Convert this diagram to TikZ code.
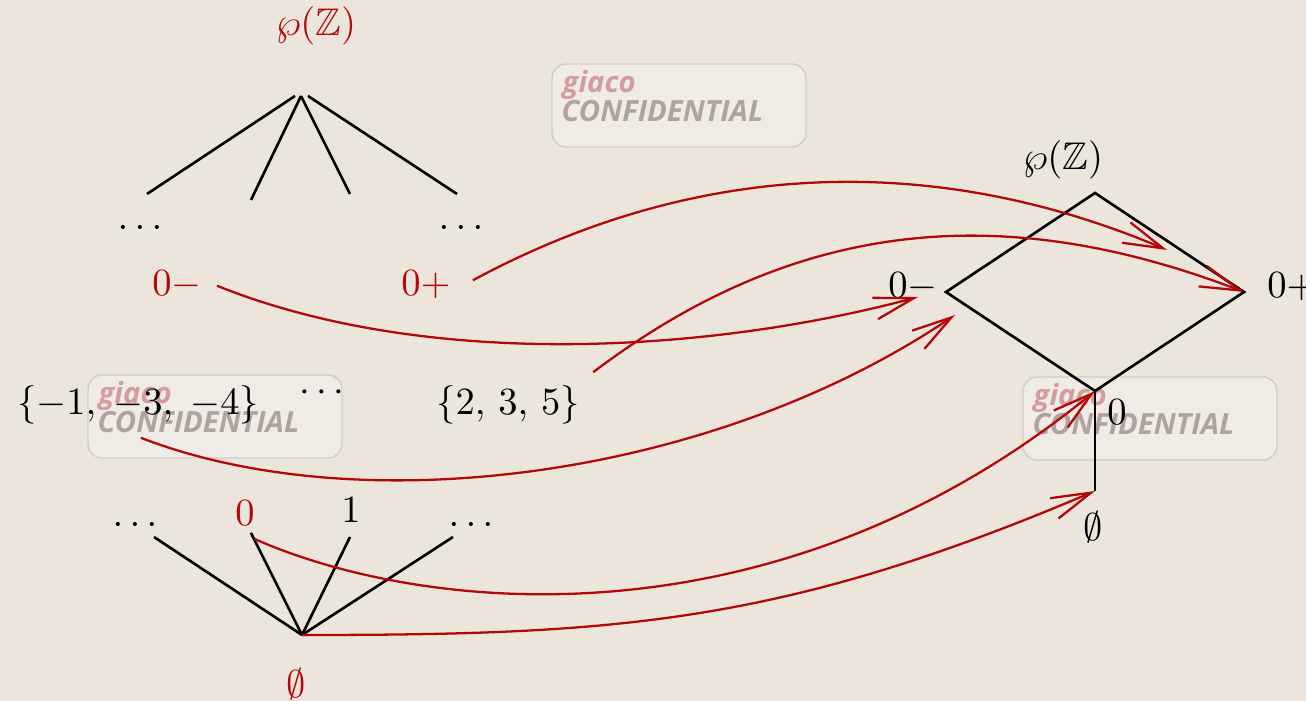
\documentclass[11pt,tikz,border=0pt]{standalone}
\usepackage{amssymb}
\usepackage{fontspec}
\newfontfamily\wmfont{Open Sans}
\usetikzlibrary{arrows.meta}
\definecolor{paper}{RGB}{236,229,220}
\definecolor{mapred}{RGB}{180,8,8}
\definecolor{wmpink}{RGB}{210,158,156}
\definecolor{wmgray}{RGB}{176,163,159}
\definecolor{wmline}{RGB}{214,204,198}
\begin{document}
\begin{tikzpicture}[x=0.01cm, y=-0.01cm,
    tree/.style={line width=0.75pt},
    map/.style={mapred, line width=0.65pt, -{Straight Barb[length=4mm,width=2.2mm]}},
    wmark/.style={anchor=west, inner sep=0pt, font=\wmfont\bfseries\itshape\fontsize{8.3}{9}\selectfont}]
  \fill[paper] (0,0) rectangle (1306,701);
  \useasboundingbox (0,0) rectangle (1306,701);

  % Watermarks
  \foreach \wx/\wy in {552/64, 88/375, 1023/377}{
    \draw[wmline, fill=white, fill opacity=0.25, rounded corners=4pt]
      (\wx,\wy) rectangle ++(254,83);
    \node[wmark, wmpink] at (\wx+10,\wy+21) {giaco};
    \node[wmark, wmgray] at (\wx+9,\wy+47) {CONFIDENTIAL};
  }

  % Left: upper tree
  \node[mapred] (ltop) at (316,26) {$\wp(\mathbb{Z})$};
  \foreach \sx/\ex/\ey in {295/147/194, 301/251/200, 301/350/194, 308/457/194}
    \draw[tree] (\sx,96) -- (\ex,\ey);
  \node (ldl) at (140,227) {$\ldots$};
  \node (ldr) at (461,227) {$\ldots$};
  \node[mapred] (lminus) at (177,285) {$0-$};
  \node[mapred] (lplus) at (426,285) {$0+$};

  % Left: middle row
  \node (sneg) at (138,405) {$\{-1,\;-3,\;-4\}$};
  \node (sdots) at (322,393) {$\cdots$};
  \node (spos) at (508,405) {$\{2,\,3,\,5\}$};

  % Left: lower tree
  \node (bdl) at (135,524) {$\ldots$};
  \node[mapred] (bzero) at (245,513) {$0$};
  \node (bone) at (351,510) {$1$};
  \node (bdr) at (471,524) {$\ldots$};
  \coordinate (bot) at (302,635);
  \node[mapred] (bempty) at (296,684) {$\emptyset$};
  \foreach \ex/\ey in {154/537, 251/533, 350/537, 453/537}
    \draw[tree] (bot) -- (\ex,\ey);

  % Right: diamond
  \coordinate (rtop) at (1095,193);
  \coordinate (rl) at (946,292);
  \coordinate (rr) at (1244,292);
  \coordinate (rbot) at (1095,391);
  \coordinate (rend) at (1095,491);
  \draw[tree] (rtop) -- (rr) -- (rbot) -- (rl) -- cycle;
  \draw[tree] (rbot) -- (rend);
  \node (rptop) at (1063,160) {$\wp(\mathbb{Z})$};
  \node (rminus) at (913,287) {$0-$};
  \node (rplus) at (1292,287) {$0+$};
  \node (rzero) at (1117,412) {$0$};
  \node (rempty) at (1093,527) {$\emptyset$};

  % Maps
  \coordinate (tipa) at (1167,250);
  \coordinate (tipb) at (918,297);
  \coordinate (tipc) at (955,315);
  \draw[map, shorten <=1mm] (lplus.east) .. controls (726,144) and (967,165) .. (tipa);
  \draw[map] (spos.north east) .. controls (793,221) and (999,198) .. (rr);
  \draw[map, shorten <=0.2mm] (lminus.east) .. controls (429,371) and (713,352) .. (tipb);
  \draw[map] (sneg.-85) .. controls (361,523) and (712,479) .. (tipc);
  \draw[map] (bzero.-70) .. controls (427,615) and (779,649) .. (rbot);
  \draw[map] (bot) .. controls (618,635) and (782,624) .. (rend);
\end{tikzpicture}
\end{document}
